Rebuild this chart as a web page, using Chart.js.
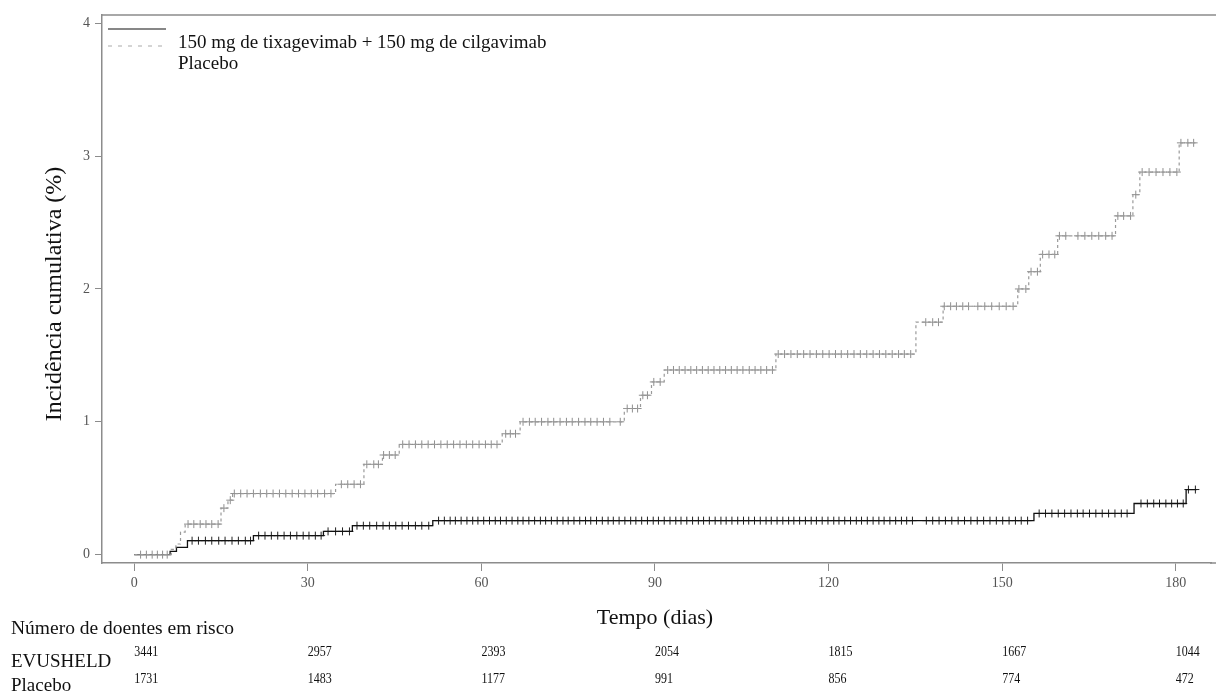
<!DOCTYPE html>
<html>
<head>
<meta charset="utf-8">
<script src="https://cdn.jsdelivr.net/npm/chart.js@4/dist/chart.umd.min.js"></script>
<style>
  html, body { margin: 0; padding: 0; background: #fff; }
  #wrap { width: 1216px; height: 695px; }
</style>
</head>
<body>
<div id="wrap"><canvas id="kmChart" width="1216" height="695"></canvas></div>
<script>
// axis ticks
const xTickValues = [0, 30, 60, 90, 120, 150, 180];
const yTickValues = [0, 1, 2, 3, 4];

// EVUSHELD: event times (days) and cumulative incidence (%)
const evTimes = [0, 6.2, 7.3, 9.2, 20.6, 32.7, 37.7, 51.6, 155.5, 172.8, 181.8];
const evInc = [0, 0.025, 0.055, 0.105, 0.143, 0.175, 0.218, 0.256, 0.31, 0.385, 0.49];
const evEnd = 183.6;
const evCensor = [10.0, 11.1, 12.3, 13.4, 14.6, 15.7, 16.9, 18.0, 19.2, 20.1,
  21.5, 22.6, 23.7, 24.8, 25.9, 27.0, 28.1, 29.2, 30.2, 31.3, 32.3,
  33.5, 34.8, 36.0, 37.2,
  38.5, 39.6, 40.7, 41.9, 43.0, 44.1, 45.2, 46.3, 47.4, 48.6, 49.7, 50.9,
  52.6, 53.6, 54.6, 55.5, 56.5, 57.5, 58.5, 59.4, 60.4, 61.4, 62.4, 63.3, 64.3, 65.3, 66.3, 67.2,
  68.2, 69.2, 70.2, 71.1, 72.1, 73.1, 74.1, 75.0, 76.0, 77.0, 78.0, 78.9, 79.9, 80.9, 81.9, 82.8,
  83.8, 84.8, 85.8, 86.7, 87.7, 88.7, 89.7, 90.6, 91.6, 92.6, 93.6, 94.5, 95.5, 96.5, 97.5, 98.4,
  99.4, 100.4, 101.4, 102.3, 103.3, 104.3, 105.3, 106.2, 107.2, 108.2, 109.2, 110.1, 111.1, 112.1,
  113.1, 114.0, 115.0, 116.0, 117.0, 117.9, 118.9, 119.9, 120.9, 121.8, 122.8, 123.8, 124.8, 125.7,
  126.7, 127.7, 128.7, 129.6, 130.6, 131.6, 132.6, 133.5, 134.5,
  136.9, 138.0, 139.1, 140.2, 141.3, 142.4, 143.5, 144.6, 145.7, 146.8, 147.9, 149.0, 150.1, 151.2,
  152.3, 153.3, 154.4,
  156.4, 157.5, 158.6, 159.7, 160.8, 161.9, 163.0, 164.0, 165.1, 166.2, 167.3, 168.4, 169.5, 170.6, 171.6,
  174.0, 175.1, 176.2, 177.2, 178.3, 179.3, 180.3, 181.3,
  182.2, 183.4];

// Placebo
const plTimes = [0, 6.4, 7.2, 8.0, 8.8, 15.0, 16.2, 17.0, 34.8, 39.7, 42.9, 45.8, 63.6, 66.7,
  84.7, 87.5, 89.4, 91.6, 110.9, 135.1, 139.8, 152.7, 154.6, 156.6, 159.6, 169.6, 172.6, 173.8, 180.6];
const plInc = [0, 0.04, 0.08, 0.17, 0.23, 0.35, 0.41, 0.46, 0.53, 0.68, 0.75, 0.83, 0.91, 1.00,
  1.10, 1.20, 1.30, 1.39, 1.51, 1.75, 1.87, 2.00, 2.13, 2.26, 2.40, 2.55, 2.71, 2.88, 3.10];
const plEnd = 183.6;
const plCensor = [1.1, 2.1, 3.1, 4.0, 4.9, 5.7,
  9.3, 10.3, 11.4, 12.4, 13.4, 14.5, 15.5, 16.6,
  17.3, 18.4, 19.5, 20.6, 21.8, 22.9, 24.0, 25.1, 26.2, 27.3, 28.4, 29.5, 30.6, 31.7, 32.9, 34.0,
  35.8, 36.9, 38.0, 39.1, 40.2, 41.4, 42.2, 43.1, 44.1, 45.1,
  46.4, 47.5, 48.6, 49.7, 50.8, 51.9, 53.0, 54.1, 55.2, 56.3, 57.4, 58.5, 59.6, 60.7, 61.7, 62.7,
  64.2, 65.0, 65.9,
  67.2, 68.3, 69.3, 70.4, 71.5, 72.5, 73.6, 74.7, 75.7, 76.8, 77.9, 78.9, 80.0, 81.1, 82.2, 84.0,
  85.2, 86.1, 87.0, 87.9, 88.7, 89.8, 90.9,
  92.2, 93.2, 94.2, 95.2, 96.2, 97.2, 98.2, 99.2, 100.2, 101.2, 102.2, 103.2, 104.2, 105.2, 106.3,
  107.3, 108.3, 109.3, 110.3,
  111.3, 112.4, 113.5, 114.6, 115.7, 116.8, 117.9, 119.0, 120.1, 121.2, 122.2, 123.3, 124.4, 125.5,
  126.6, 127.7, 128.8, 129.9, 131.0, 132.1, 133.1, 134.2,
  136.8, 138.0, 139.0,
  140.0, 141.1, 142.1, 143.2, 144.2, 145.8, 147.0, 148.2, 149.5, 150.7, 151.9,
  152.9, 154.1, 155.0, 156.1, 157.0, 158.1, 159.1,
  159.9, 161.0, 163.1, 164.3, 165.5, 166.7, 167.9, 169.0,
  170.0, 171.0, 172.2, 173.1,
  174.2, 175.4, 176.6, 177.8, 179.0, 180.2,
  180.9, 182.1, 183.1];

// number at risk
const riskTimes = [0, 30, 60, 90, 120, 150, 180];
const evRisk = [3441, 2957, 2393, 2054, 1815, 1667, 1044];
const plRisk = [1731, 1483, 1177, 991, 856, 774, 472];

const SERIF = '"Liberation Serif", "Times New Roman", serif';
const FRAME = '#8c8c8c';

function stepValue(times, vals, t) {
  let v = vals[0];
  for (let i = 0; i < times.length; i++) {
    if (times[i] <= t) v = vals[i];
  }
  return v;
}

function curvePoints(times, vals, end) {
  const pts = times.map((t, i) => ({ x: t, y: vals[i] }));
  pts.push({ x: end, y: vals[vals.length - 1] });
  return pts;
}

// narrow digits like the original risk table
function narrowText(ctx, txt, x, y) {
  ctx.save();
  ctx.translate(x, y);
  ctx.scale(0.8, 1);
  ctx.fillText(txt, 0, 0);
  ctx.restore();
}

const extras = {
  id: 'extras',
  afterDraw(chart) {
    const { ctx, chartArea } = chart;
    const xs = chart.scales.x;
    ctx.save();
    // frame: top line, and bottom line running on to the edge
    ctx.strokeStyle = FRAME;
    ctx.lineWidth = 1.5;
    ctx.beginPath();
    ctx.moveTo(chartArea.left, chartArea.top);
    ctx.lineTo(chart.width, chartArea.top);
    ctx.moveTo(chartArea.right - 1, chartArea.bottom);
    ctx.lineTo(chart.width, chartArea.bottom);
    ctx.stroke();

    // legend
    ctx.strokeStyle = '#111';
    ctx.lineWidth = 1.2;
    ctx.beginPath();
    ctx.moveTo(108, 29);
    ctx.lineTo(166, 29);
    ctx.stroke();
    ctx.strokeStyle = '#aaa';
    ctx.setLineDash([4, 6]);
    ctx.beginPath();
    ctx.moveTo(108, 46);
    ctx.lineTo(162, 46);
    ctx.stroke();
    ctx.setLineDash([]);

    ctx.fillStyle = '#111';
    ctx.font = '19px ' + SERIF;
    ctx.textAlign = 'left';
    ctx.textBaseline = 'middle';
    ctx.fillText('150 mg de tixagevimab + 150 mg de cilgavimab', 178, 43);
    ctx.fillText('Placebo', 178, 64);

    // axis titles
    ctx.save();
    ctx.translate(55, 294);
    ctx.rotate(-Math.PI / 2);
    ctx.textAlign = 'center';
    ctx.font = '24px ' + SERIF;
    ctx.fillText('Incidência cumulativa (%)', 0, 0);
    ctx.restore();

    ctx.textAlign = 'center';
    ctx.font = '22px ' + SERIF;
    ctx.fillText('Tempo (dias)', 655, 618);

    // risk table
    ctx.textAlign = 'left';
    ctx.textBaseline = 'alphabetic';
    ctx.font = '19.5px ' + SERIF;
    ctx.fillText('Número de doentes em risco', 11, 634);
    ctx.font = '19px ' + SERIF;
    ctx.fillText('EVUSHELD', 11, 667);
    ctx.fillText('Placebo', 11, 691);
    ctx.font = '15px ' + SERIF;
    riskTimes.forEach((t, i) => {
      const px = xs.getPixelForValue(t);
      narrowText(ctx, String(evRisk[i]), px, 656);
      narrowText(ctx, String(plRisk[i]), px, 683);
    });
    ctx.restore();
  }
};

const ctx = document.getElementById('kmChart').getContext('2d');
const kmChart = new Chart(ctx, {
  type: 'line',
  data: {
    datasets: [
      {
        label: 'Placebo',
        data: curvePoints(plTimes, plInc, plEnd),
        stepped: true,
        borderColor: '#9a9a9a',
        borderWidth: 1.2,
        borderDash: [3, 3],
        pointRadius: 0,
        fill: false,
        order: 0
      },
      {
        label: 'Placebo censored',
        data: plCensor.map(t => ({ x: t, y: stepValue(plTimes, plInc, t) })),
        showLine: false,
        pointStyle: 'cross',
        pointRadius: 4,
        pointBorderWidth: 1,
        pointBorderColor: '#8f8f8f',
        order: 0
      },
      {
        label: 'EVUSHELD',
        data: curvePoints(evTimes, evInc, evEnd),
        stepped: true,
        borderColor: '#111',
        borderWidth: 1.3,
        pointRadius: 0,
        fill: false,
        order: 1
      },
      {
        label: 'EVUSHELD censored',
        data: evCensor.map(t => ({ x: t, y: stepValue(evTimes, evInc, t) })),
        showLine: false,
        pointStyle: 'cross',
        pointRadius: 4,
        pointBorderWidth: 1,
        pointBorderColor: '#222',
        order: 1
      }
    ]
  },
  options: {
    responsive: false,
    animation: false,
    devicePixelRatio: 1,
    layout: { padding: { top: 15, left: 0, right: 0, bottom: 0 } },
    plugins: {
      legend: { display: false },
      tooltip: { enabled: false }
    },
    scales: {
      x: {
        type: 'linear',
        min: -5.57,
        max: 186.1,
        afterBuildTicks: s => { s.ticks = xTickValues.map(v => ({ value: v })); },
        afterFit: s => { s.height = 132; },
        grid: { drawOnChartArea: false, tickLength: 8, color: FRAME, lineWidth: 1 },
        border: { color: FRAME, width: 1.5 },
        ticks: { color: '#555', font: { family: SERIF, size: 14 }, padding: 4, maxRotation: 0, autoSkip: false }
      },
      y: {
        min: -0.063,
        max: 4.0625,
        afterBuildTicks: s => { s.ticks = yTickValues.map(v => ({ value: v })); },
        afterFit: s => { s.width = 102; },
        grid: { drawOnChartArea: false, tickLength: 7, color: FRAME, lineWidth: 1 },
        border: { color: FRAME, width: 1.5 },
        ticks: { color: '#555', font: { family: SERIF, size: 14 }, padding: 5 }
      }
    }
  },
  plugins: [extras]
});
</script>
</body>
</html>
